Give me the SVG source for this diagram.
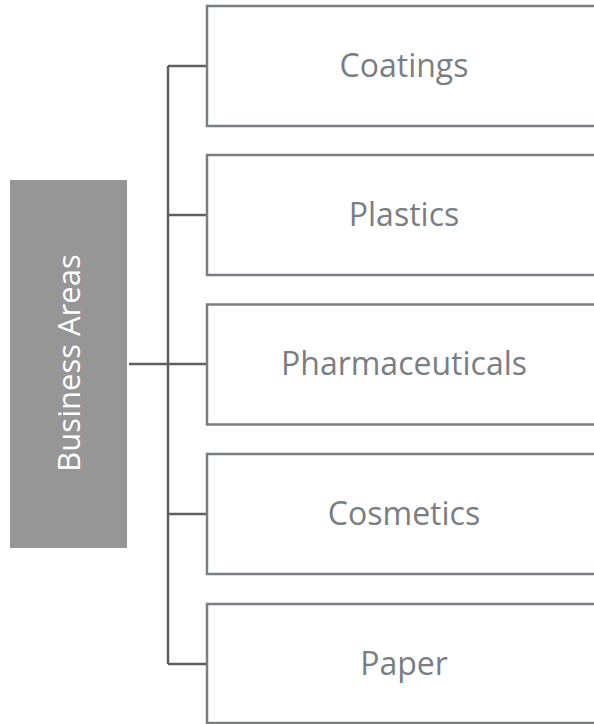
<svg xmlns="http://www.w3.org/2000/svg" width="594" height="724" viewBox="0 0 594 724">
<style>
.box{fill:#ffffff;stroke:#7a7e82;stroke-width:2.5}
.lbl{font-family:"Open Sans","Liberation Sans",Arial,sans-serif;font-size:32px;fill:#7a7e82;text-anchor:middle}
.root{fill:#969696}
.rlbl{font-family:"Open Sans","Liberation Sans",Arial,sans-serif;font-size:31px;fill:#ffffff;text-anchor:middle}
.conn{fill:none;stroke:#5f5f5f;stroke-width:2.5}
</style>
<rect width="594" height="724" fill="#ffffff"/>
<g id="connectors">
<path class="conn" d="M168 66 V664"/>
<path class="conn" d="M129 364 H168"/>
<path class="conn" d="M168 66 H207"/>
<path class="conn" d="M168 215 H207"/>
<path class="conn" d="M168 364 H207"/>
<path class="conn" d="M168 514 H207"/>
<path class="conn" d="M168 664 H207"/>
</g>
<g id="business-areas">
<rect class="root" x="10" y="180" width="117" height="368"/>
<text class="rlbl" transform="translate(80 363) rotate(-90)" x="0" y="0">Business Areas</text>
</g>
<g id="coatings">
<rect class="box" x="207" y="6" width="400" height="120"/>
<text class="lbl" x="404" y="77">Coatings</text>
</g>
<g id="plastics">
<rect class="box" x="207" y="155" width="400" height="120"/>
<text class="lbl" x="404" y="226">Plastics</text>
</g>
<g id="pharmaceuticals">
<rect class="box" x="207" y="304.5" width="400" height="120"/>
<text class="lbl" x="404" y="375">Pharmaceuticals</text>
</g>
<g id="cosmetics">
<rect class="box" x="207" y="454" width="400" height="120"/>
<text class="lbl" x="404" y="525">Cosmetics</text>
</g>
<g id="paper">
<rect class="box" x="207" y="604" width="400" height="119"/>
<text class="lbl" x="404" y="675">Paper</text>
</g>
</svg>
